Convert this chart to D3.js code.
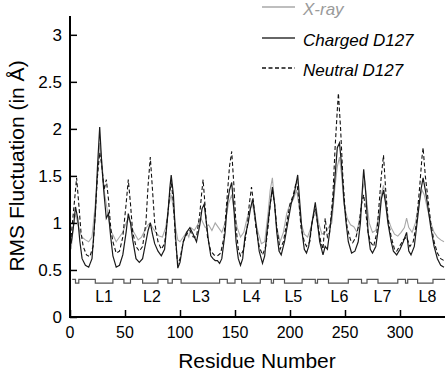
<!DOCTYPE html>
<html>
<head>
<meta charset="utf-8">
<script src="https://cdn.jsdelivr.net/npm/d3@7"></script>
<style>
  body { margin: 0; background: #fff; }
  text { font-family: 'Liberation Sans', Arial, sans-serif; }
</style>
</head>
<body>
<div id="graph"></div>
<script>
// [residue, RMS fluctuation]
var xray = [
  [1, 0.72], [3, 0.95], [5, 1.1], [7, 1.0], [9, 0.9], [11, 0.85], [14, 0.82], [17, 0.8], [20, 0.85],
  [23, 1.2], [25, 1.5], [27, 1.85], [29, 1.65], [31, 1.35], [33, 1.2], [35, 1.05], [37, 0.92], [40, 0.85],
  [42, 0.8], [45, 0.85], [48, 0.9], [51, 1.0], [53, 1.05], [55, 1.0], [58, 0.9], [62, 0.82], [65, 0.85],
  [68, 0.92], [71, 0.98], [73, 1.0], [75, 0.95], [78, 0.9], [81, 0.86], [84, 0.85], [87, 0.95], [90, 1.2],
  [92, 1.3], [94, 1.15], [96, 0.95], [98, 0.82], [100, 0.8], [103, 0.85], [106, 0.9], [108, 0.85], [110, 0.95],
  [113, 0.92], [116, 0.98], [119, 1.05], [121, 1.0], [123, 0.95], [126, 0.98], [129, 0.92], [132, 1.0], [135, 0.95],
  [138, 0.9], [141, 1.0], [144, 1.2], [147, 1.3], [149, 1.15], [152, 0.95], [155, 0.85], [158, 0.9], [161, 1.05],
  [164, 1.15], [166, 1.2], [168, 1.05], [171, 0.9], [174, 0.78], [177, 0.8], [180, 1.1], [182, 1.35], [184, 1.48],
  [186, 1.2], [188, 0.95], [191, 0.8], [194, 0.9], [197, 1.1], [200, 1.2], [203, 1.25], [206, 1.35], [208, 1.2],
  [210, 1.0], [213, 0.88], [216, 0.85], [219, 0.95], [222, 1.1], [224, 1.15], [226, 1.0], [229, 0.88], [232, 0.9],
  [235, 0.95], [238, 1.0], [241, 1.4], [243, 1.6], [245, 1.7], [247, 1.5], [249, 1.2], [252, 1.05], [255, 0.98],
  [258, 0.96], [261, 0.9], [264, 1.1], [266, 1.35], [268, 1.45], [270, 1.2], [272, 1.0], [275, 0.9], [278, 0.92],
  [281, 1.1], [283, 1.3], [285, 1.4], [287, 1.25], [289, 1.05], [292, 0.95], [295, 0.88], [298, 0.86], [301, 0.9],
  [304, 0.95], [306, 1.05], [308, 0.95], [311, 0.9], [314, 1.0], [317, 1.2], [320, 1.35], [322, 1.3], [325, 1.15],
  [328, 1.0], [331, 0.9], [334, 0.85], [337, 0.82], [340, 0.8]
]

var charged = [
  [1, 0.78], [3, 0.95], [5, 1.17], [7, 1.05], [9, 0.8], [11, 0.62], [14, 0.55], [17, 0.53], [20, 0.62],
  [23, 1.1], [25, 1.6], [27, 2.02], [29, 1.6], [31, 1.3], [33, 1.05], [35, 1.1], [37, 0.85], [39, 0.65],
  [42, 0.53], [45, 0.55], [48, 0.66], [51, 0.9], [53, 1.1], [55, 1.0], [57, 0.82], [60, 0.62], [63, 0.58],
  [66, 0.62], [69, 0.8], [71, 0.92], [73, 1.0], [75, 0.88], [77, 0.78], [80, 0.7], [83, 0.65], [86, 0.72],
  [89, 1.1], [91, 1.4], [92, 1.51], [94, 1.3], [96, 0.85], [98, 0.52], [100, 0.58], [103, 0.8], [106, 0.9],
  [109, 0.95], [112, 0.88], [115, 0.8], [118, 0.98], [120, 1.15], [122, 1.2], [124, 1.0], [126, 0.8], [128, 0.65],
  [130, 0.62], [132, 0.6], [134, 0.6], [136, 0.57], [138, 0.62], [141, 0.9], [143, 1.2], [145, 1.35], [147, 1.43],
  [149, 1.15], [151, 0.8], [153, 0.62], [155, 0.55], [157, 0.62], [159, 0.85], [162, 1.0], [164, 1.15], [166, 1.25],
  [168, 1.1], [170, 0.9], [172, 0.7], [175, 0.57], [177, 0.65], [179, 0.9], [182, 1.2], [184, 1.38], [186, 1.2],
  [188, 0.9], [190, 0.7], [192, 0.66], [195, 0.8], [198, 1.0], [201, 1.2], [204, 1.32], [207, 1.51], [209, 1.2],
  [211, 0.9], [213, 0.72], [215, 0.68], [217, 0.75], [220, 1.0], [223, 1.22], [225, 1.0], [227, 0.8], [230, 0.66],
  [232, 0.75], [234, 0.72], [236, 0.9], [239, 1.2], [241, 1.5], [243, 1.8], [245, 1.85], [247, 1.6], [249, 1.25],
  [251, 1.0], [253, 0.8], [256, 0.68], [259, 0.7], [262, 0.8], [264, 1.0], [266, 1.4], [267, 1.57], [269, 1.3],
  [271, 0.9], [273, 0.72], [275, 0.68], [278, 0.75], [281, 1.0], [283, 1.25], [285, 1.35], [287, 1.2], [289, 1.0],
  [292, 0.8], [294, 0.7], [297, 0.66], [300, 0.72], [303, 0.8], [306, 0.9], [308, 0.7], [310, 0.66], [313, 0.75],
  [316, 1.05], [319, 1.35], [321, 1.48], [323, 1.35], [325, 1.2], [328, 0.95], [331, 0.75], [334, 0.62], [337, 0.55],
  [340, 0.53]
]

var neutral = [
  [1, 0.85], [3, 1.1], [5, 1.35], [6, 1.48], [8, 1.2], [10, 0.9], [12, 0.75], [15, 0.66], [18, 0.64],
  [21, 0.75], [23, 1.1], [25, 1.5], [27, 1.75], [29, 1.6], [31, 1.35], [33, 1.46], [35, 1.25], [37, 0.95],
  [39, 0.8], [42, 0.68], [45, 0.7], [48, 0.85], [51, 1.2], [53, 1.46], [55, 1.2], [57, 0.9], [60, 0.75],
  [63, 0.7], [66, 0.75], [69, 1.0], [71, 1.4], [73, 1.7], [75, 1.35], [77, 1.0], [80, 0.8], [83, 0.72],
  [86, 0.78], [89, 1.1], [91, 1.35], [92, 1.45], [94, 1.2], [96, 0.8], [98, 0.56], [100, 0.62], [103, 0.8],
  [106, 0.88], [109, 0.92], [112, 0.85], [115, 0.85], [118, 1.1], [120, 1.35], [121, 1.46], [123, 1.15], [125, 0.85],
  [128, 0.7], [131, 0.66], [134, 0.65], [137, 0.68], [140, 0.85], [143, 1.3], [145, 1.6], [147, 1.76], [149, 1.4],
  [151, 0.95], [153, 0.72], [155, 0.65], [158, 0.72], [161, 0.95], [163, 1.2], [165, 1.38], [167, 1.2], [169, 0.95],
  [172, 0.75], [175, 0.66], [178, 0.75], [180, 0.95], [182, 1.2], [184, 1.35], [186, 1.2], [188, 0.95], [191, 0.72],
  [194, 0.8], [197, 1.0], [200, 1.2], [203, 1.3], [206, 1.45], [208, 1.25], [210, 0.95], [213, 0.8], [215, 0.75],
  [218, 0.8], [220, 1.0], [223, 1.15], [225, 1.0], [228, 0.8], [230, 0.72], [232, 1.05], [234, 0.85], [236, 0.9],
  [239, 1.3], [241, 1.8], [243, 2.2], [244, 2.38], [246, 2.0], [248, 1.5], [250, 1.15], [252, 0.95], [255, 0.82],
  [257, 0.79], [260, 0.85], [263, 1.0], [265, 1.2], [267, 1.3], [269, 1.1], [271, 0.9], [273, 0.8], [276, 0.75],
  [279, 0.9], [281, 1.2], [283, 1.5], [285, 1.72], [287, 1.35], [289, 1.05], [292, 0.85], [295, 0.72], [297, 0.7],
  [300, 0.76], [303, 0.82], [306, 0.85], [309, 0.75], [312, 0.8], [315, 1.0], [318, 1.4], [320, 1.7], [321, 1.8],
  [323, 1.5], [325, 1.3], [328, 1.0], [331, 0.8], [334, 0.68], [337, 0.62], [340, 0.6]
]

// secondary structure trace: residue where each step starts, and its level
var ssStart = [2, 5, 8, 23, 39, 49, 55, 66, 80, 89, 93, 101, 136, 143, 150, 156, 173, 183, 185, 195,
  211, 223, 225, 235, 253, 265, 270, 280, 298, 305, 307, 316, 330, 341]
var ssLevel = [0.4, 0.36, 0.4, 0.36, 0.4, 0.36, 0.4, 0.36, 0.4, 0.36, 0.4, 0.36, 0.4, 0.36, 0.4, 0.36,
  0.4, 0.36, 0.4, 0.36, 0.4, 0.36, 0.4, 0.36, 0.4, 0.36, 0.4, 0.36, 0.4, 0.36, 0.4, 0.36, 0.4, 0.4]

var loopNames = ['L1', 'L2', 'L3', 'L4', 'L5', 'L6', 'L7', 'L8']
var loopPos = [31, 74.5, 119, 165, 203, 245, 284, 325]

var xTicks = [0, 50, 100, 150, 200, 250, 300]
var yTicks = [0, 0.5, 1, 1.5, 2, 2.5, 3]

var seriesNames = ['X-ray', 'Charged D127', 'Neutral D127']

var svg = d3
  .select('#graph')
  .append('svg')
  .attr('width', 448)
  .attr('height', 371)

var x = d3.scaleLinear().domain([0, 340]).range([70, 444])
var y = d3.scaleLinear().domain([0, 3.2]).range([317, 16])

var line = d3
  .line()
  .x(d => x(d[0]))
  .y(d => y(d[1]))

svg.append('path')
  .datum(xray)
  .attr('d', line)
  .attr('fill', 'none')
  .attr('stroke', '#a8a8a8')
  .attr('stroke-width', 1.1)

svg.append('path')
  .datum(charged)
  .attr('d', line)
  .attr('fill', 'none')
  .attr('stroke', '#1a1a1a')
  .attr('stroke-width', 1.2)

svg.append('path')
  .datum(neutral)
  .attr('d', line)
  .attr('fill', 'none')
  .attr('stroke', '#111')
  .attr('stroke-width', 1.1)
  .attr('stroke-dasharray', '4,2.5')

// secondary structure step line
var ss = ssStart.map((s, i) => [s, ssLevel[i]])
svg.append('path')
  .datum(ss)
  .attr('d', line.curve(d3.curveStepAfter))
  .attr('fill', 'none')
  .attr('stroke', '#555')
  .attr('stroke-width', 1.2)

svg.selectAll('.loop')
  .data(loopNames)
  .enter()
  .append('text')
  .attr('class', 'loop')
  .attr('x', (d, i) => x(loopPos[i]))
  .attr('y', 302)
  .attr('text-anchor', 'middle')
  .attr('font-size', 16)
  .text(d => d)

// axes, ticks inward
var xAxis = svg.append('g')
  .attr('transform', 'translate(0,317)')
  .call(d3.axisTop(x).tickValues(xTicks).tickSize(7).tickSizeOuter(0).tickFormat(''))
xAxis.select('.domain').attr('stroke-width', 2).attr('d', 'M70,0H445')
xAxis.selectAll('.tick line').attr('stroke-width', 1.5)

svg.append('g')
  .selectAll('text')
  .data(xTicks)
  .enter()
  .append('text')
  .attr('x', d => x(d))
  .attr('y', 338)
  .attr('text-anchor', 'middle')
  .attr('font-size', 16)
  .text(d => d)

var yAxis = svg.append('g')
  .attr('transform', 'translate(70,0)')
  .call(d3.axisRight(y).tickValues(yTicks).tickSize(7).tickSizeOuter(0).tickFormat(''))
yAxis.select('.domain').attr('stroke-width', 2).attr('d', 'M0,16V318')
yAxis.selectAll('.tick line').attr('stroke-width', 1.5)

svg.append('g')
  .selectAll('text')
  .data(yTicks)
  .enter()
  .append('text')
  .attr('x', 62)
  .attr('y', d => y(d) + 6)
  .attr('text-anchor', 'end')
  .attr('font-size', 17)
  .text(d => d)

svg.append('text')
  .attr('x', 257)
  .attr('y', 368)
  .attr('text-anchor', 'middle')
  .attr('font-size', 21)
  .text('Residue Number')

svg.append('text')
  .attr('transform', 'translate(24,166) rotate(-90)')
  .attr('text-anchor', 'middle')
  .attr('font-size', 21)
  .text('RMS Fluctuation (in Å)')

// legend
var legY = [7, 38, 68]
var legStroke = ['#a8a8a8', '#333', '#111']
var legDash = [null, null, '4,2.5']
var legText = ['#9a9a9a', '#000', '#000']
var leg = svg.selectAll('.leg')
  .data(seriesNames)
  .enter()
  .append('g')
  .attr('class', 'leg')
leg.append('line')
  .attr('x1', 262)
  .attr('x2', 295)
  .attr('y1', (d, i) => legY[i])
  .attr('y2', (d, i) => legY[i])
  .attr('stroke', (d, i) => legStroke[i])
  .attr('stroke-width', 1.3)
  .attr('stroke-dasharray', (d, i) => legDash[i])
leg.append('text')
  .attr('x', 303)
  .attr('y', (d, i) => legY[i] + 8)
  .attr('font-size', 17)
  .attr('font-style', 'italic')
  .attr('fill', (d, i) => legText[i])
  .text(d => d)
</script>
</body>
</html>
